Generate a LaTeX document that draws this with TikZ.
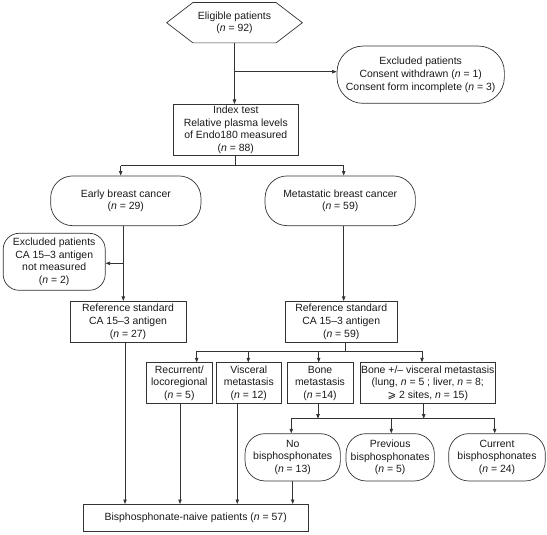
\documentclass[tikz,border=0pt]{standalone}
\usepackage{fontspec}
\setmainfont{Liberation Sans}
\newfontfamily\djv{DejaVu Sans}
\usetikzlibrary{arrows.meta,calc}
\newcommand{\nn}{\textit{n}}
\begin{document}
\begin{tikzpicture}[x=1pt,y=-1pt,
  every node/.style={font=\fontsize{10.45}{12.6}\selectfont, align=center, inner sep=0pt, text=black!90},
  ln/.style={draw=black!80, line width=0.7pt},
  arr/.style={ln, -{Triangle[length=4.5pt,width=3.4pt]}},
  sqbox/.style={ln, rectangle},
  rndbox/.style={ln, rectangle, rounded corners=#1},
]
\useasboundingbox (0,0) rectangle (547,535);

% nodes
\node[minimum width=135.3pt, minimum height=40pt] (elig) at (234.5,22.7) {Eligible patients\\(\nn{} = 92)};
\draw[ln] (elig.west) -- ($(elig.north west)+(26.3,0)$) -- ($(elig.north east)+(-26.3,0)$) -- (elig.east)
  -- ($(elig.south east)+(-26.3,0)$) -- ($(elig.south west)+(26.3,0)$) -- cycle;

\node[rndbox=26pt, minimum width=167.3pt, minimum height=57.3pt] (excl1) at (420.7,74.7)
  {Excluded patients\\Consent withdrawn (\nn{} = 1)\\Consent form incomplete (\nn{} = 3)};
\node[sqbox, minimum width=125pt, minimum height=50.7pt] (index) at (235.8,129.7)
  {Index test\\Relative plasma levels\\of Endo180 measured\\(\nn{} = 88)};
\node[rndbox=22pt, minimum width=150.3pt, minimum height=49.7pt] (early) at (125.8,200.8)
  {Early breast cancer\\(\nn{} = 29)};
\node[rndbox=22pt, minimum width=150.3pt, minimum height=49.7pt] (meta) at (340.2,200.8)
  {Metastatic breast cancer\\(\nn{} = 59)};
\node[rndbox=16pt, minimum width=102pt, minimum height=57pt] (excl2) at (54.2,261.8)
  {Excluded patients\\CA 15–3 antigen\\not measured\\(\nn{} = 2)};
\node[sqbox, minimum width=116pt, minimum height=41pt] (ref1) at (128,321.8)
  {Reference standard\\CA 15–3 antigen\\(\nn{} = 27)};
\node[sqbox, minimum width=111.7pt, minimum height=41pt] (ref2) at (341.2,321.8)
  {Reference standard\\CA 15–3 antigen\\(\nn{} = 59)};
\node[sqbox, minimum width=65.3pt, minimum height=41pt] (rec) at (179.3,383.2)
  {Recurrent/\\locoregional\\(\nn{} = 5)};
\node[sqbox, minimum width=65.7pt, minimum height=41pt] (visc) at (248.8,383.2)
  {Visceral\\metastasis\\(\nn{} = 12)};
\node[sqbox, minimum width=66pt, minimum height=41pt] (bone) at (320,383.2)
  {Bone\\metastasis\\(\nn{} =14)};
\node[sqbox, minimum width=135pt, minimum height=41pt] (bonev) at (427.8,383.2)
  {Bone +/– visceral metastasis\\(lung, \nn{} = 5 ; liver, \nn{} = 8;\\{\djv ⩾} 2 sites, \nn{} = 15)};
\node[rndbox=20pt, minimum width=95.3pt, minimum height=47.3pt] (nob) at (292.7,457.3)
  {No\\bisphosphonates\\(\nn{} = 13)};
\node[rndbox=20pt, minimum width=88.3pt, minimum height=47.3pt] (prev) at (390.2,457.3)
  {Previous\\bisphosphonates\\(\nn{} = 5)};
\node[rndbox=20pt, minimum width=96.6pt, minimum height=47.3pt] (curr) at (497,457.3)
  {Current\\bisphosphonates\\(\nn{} = 24)};
\node[sqbox, minimum width=224.7pt, minimum height=26.7pt] (naive) at (195.7,517.7)
  {Bisphosphonate-naive patients (\nn{} = 57)};

% junction coordinates
\coordinate (j1) at (234.5,71.7);
\coordinate (jE) at (120.7,165.7);
\coordinate (jM) at (343.7,165.7);
\coordinate (jX) at (123.3,263.3);
\coordinate (kR) at (345.3,351);
\coordinate (k1) at (196.7,351);
\coordinate (k2) at (248.3,351);
\coordinate (k3) at (318.7,351);
\coordinate (k4) at (422,351);
\coordinate (mb) at (318,418.7);
\coordinate (mv) at (423.7,418.7);
\coordinate (m1) at (291.3,418.7);
\coordinate (m2) at (391.3,418.7);
\coordinate (m3) at (494.7,418.7);
\coordinate (n1) at (125,504.3);
\coordinate (n2) at (180,504.3);
\coordinate (n3) at (237.3,504.3);
\coordinate (n4) at (292.7,504.3);

% connectors
\draw[arr] (elig.south) -- (elig.south |- index.north);
\draw[arr] (j1) -- (j1 -| excl1.west);
\draw[ln] (index.south) -- (index.south |- jE);
\draw[ln] (jE) -- (jM);
\draw[arr] (jE) -- (jE |- early.north);
\draw[arr] (jM) -- (jM |- meta.north);
\draw[arr] (early.south -| jX) -- (ref1.north -| jX);
\draw[arr] (jX) -- (jX -| excl2.east);
\draw[arr] (meta.south -| jM) -- (ref2.north -| jM);
\draw[ln] (ref2.south -| kR) -- (kR);
\draw[ln] (k1) -- (k4);
\draw[arr] (k1) -- (k1 |- rec.north);
\draw[arr] (k2) -- (k2 |- visc.north);
\draw[arr] (k3) -- (k3 |- bone.north);
\draw[arr] (k4) -- (k4 |- bonev.north);
\draw[arr] (bone.south -| mb) -- (mb);
\draw[arr] (bonev.south -| mv) -- (mv);
\draw[ln] (m1) -- (m3);
\draw[arr] (m1) -- (m1 |- nob.north);
\draw[arr] (m2) -- (m2 |- prev.north);
\draw[arr] (m3) -- (m3 |- curr.north);
\draw[arr] (ref1.south -| n1) -- (n1 |- naive.north);
\draw[arr] (rec.south -| n2) -- (n2 |- naive.north);
\draw[arr] (visc.south -| n3) -- (n3 |- naive.north);
\draw[arr] (nob.south -| n4) -- (n4 |- naive.north);
\end{tikzpicture}
\end{document}
